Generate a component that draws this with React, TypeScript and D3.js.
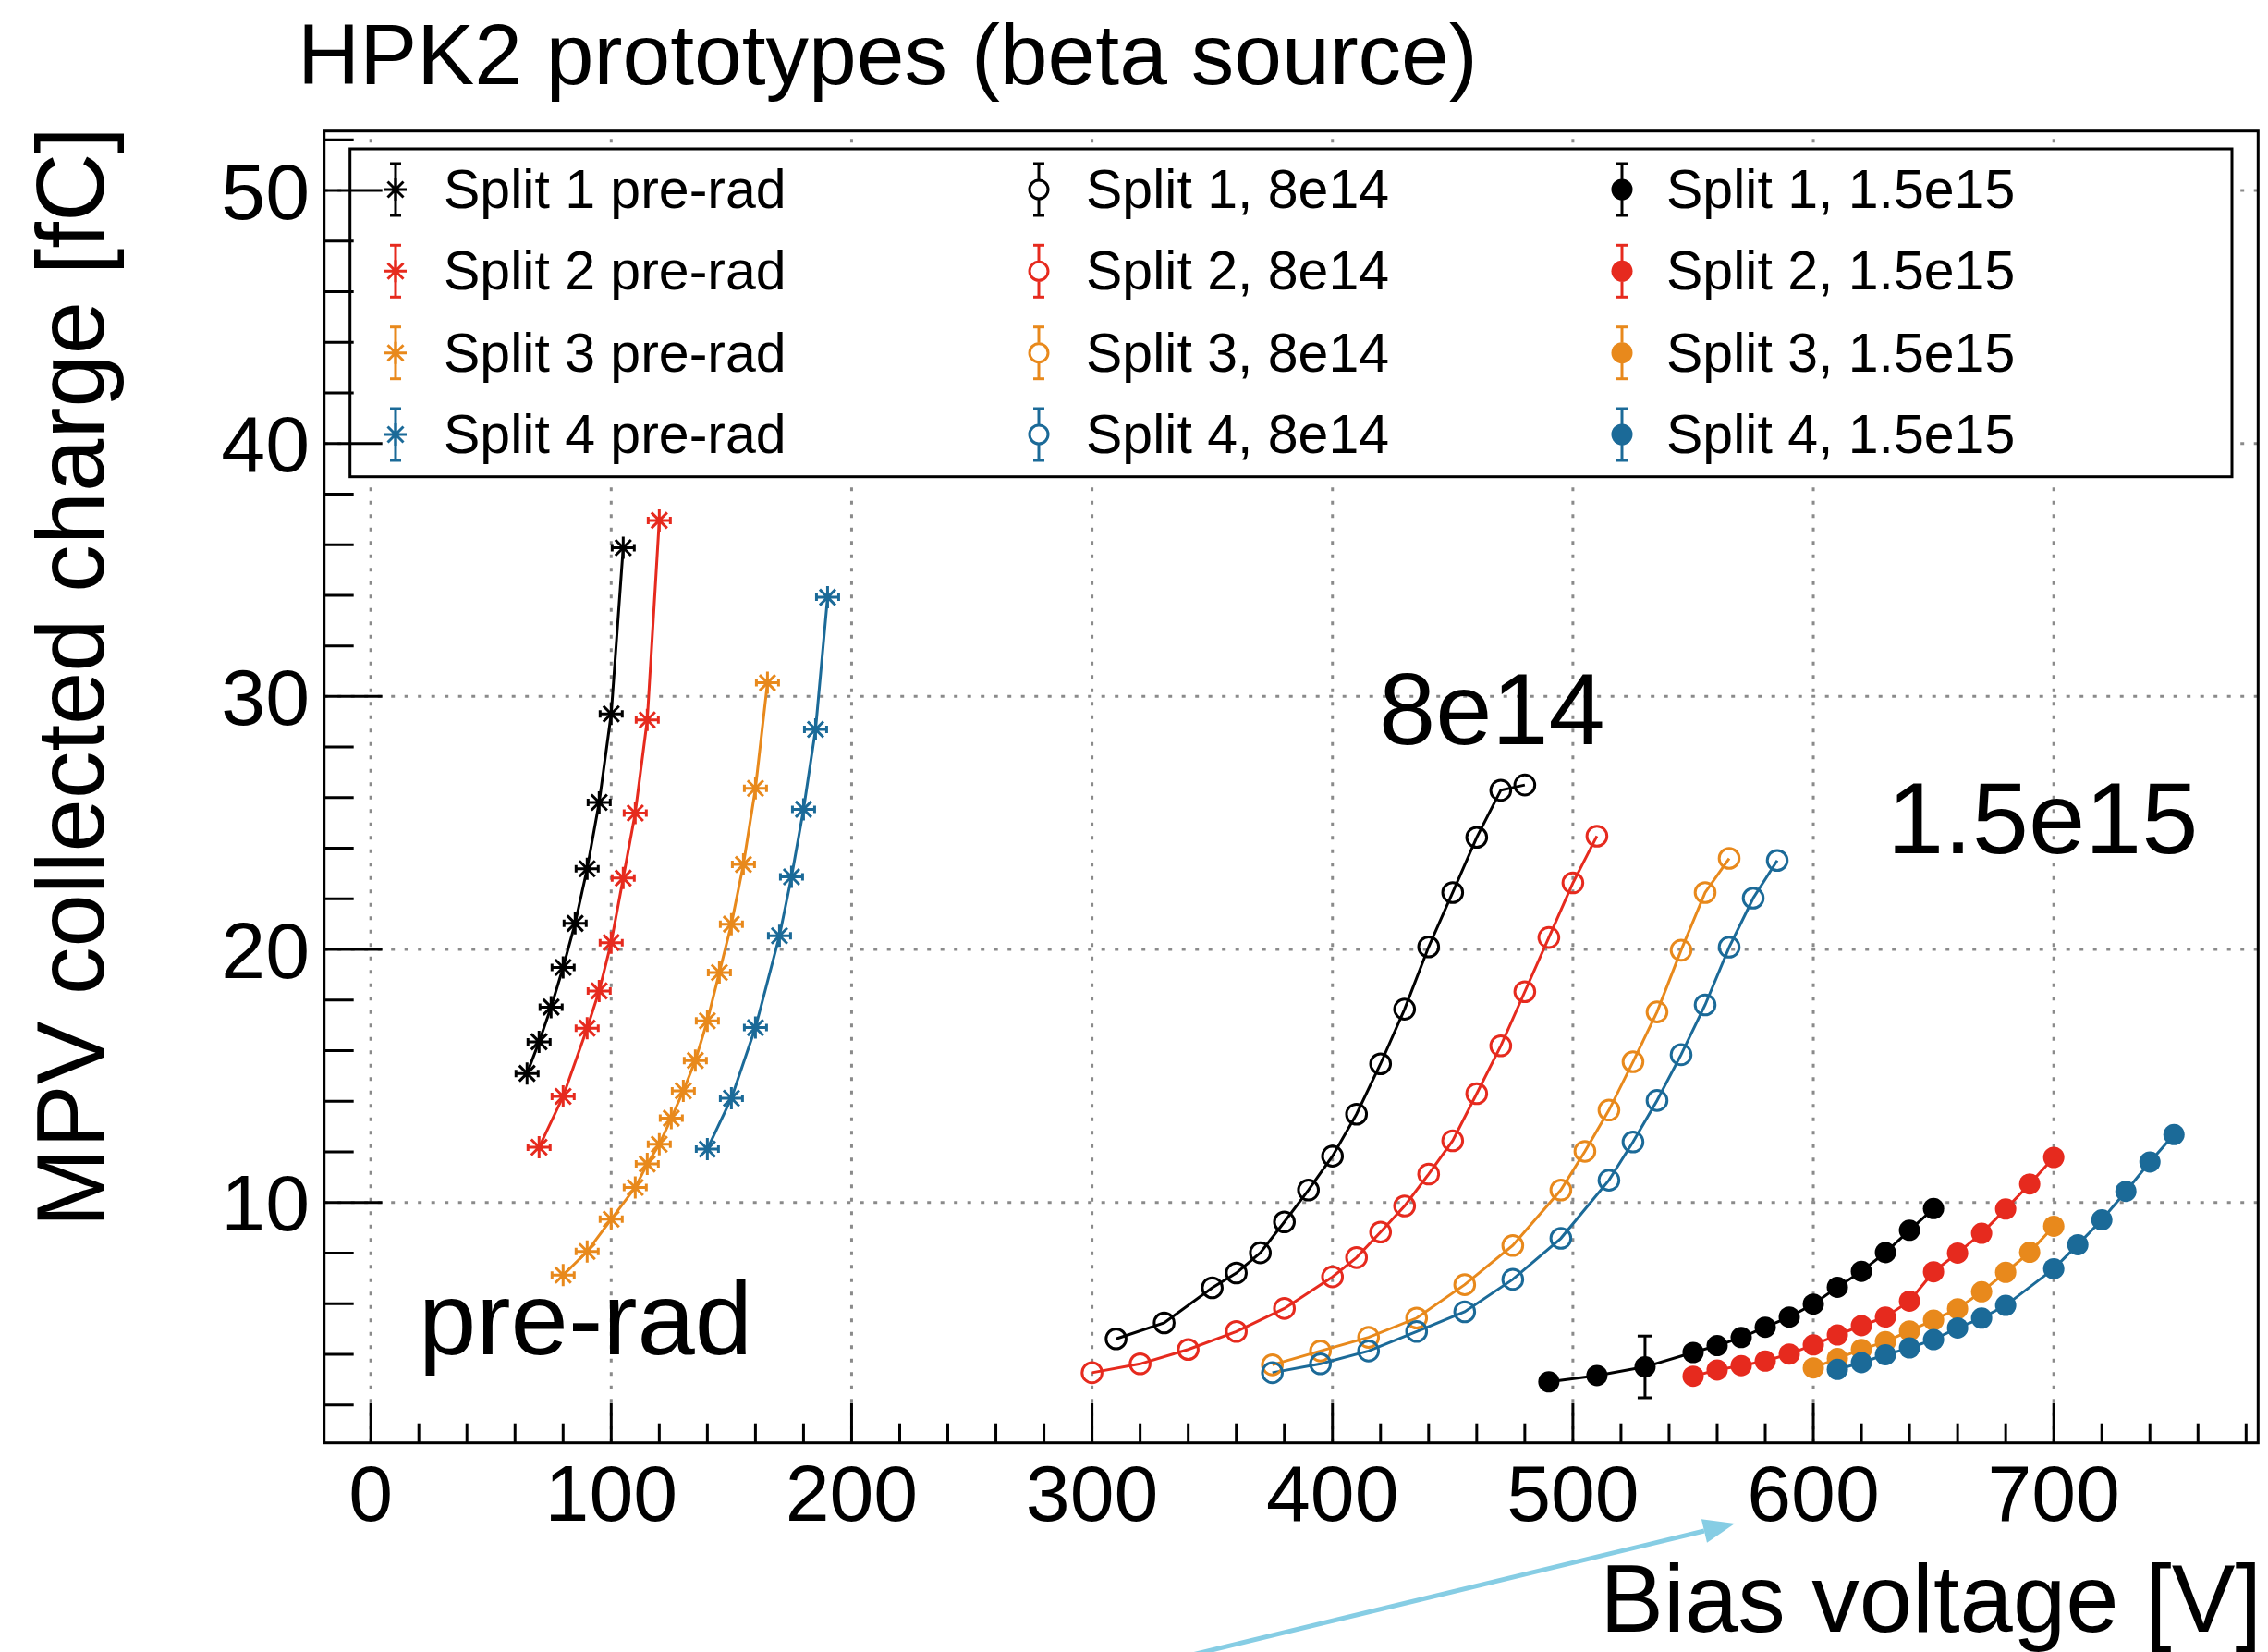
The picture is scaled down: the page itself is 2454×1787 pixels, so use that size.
import React from "react";
import * as d3 from "d3";

// ---------- data ----------
const s1PreV = [65, 70, 75, 80, 85, 90, 95, 100, 105];
const s1PreQ = [15.1, 16.35, 17.72, 19.29, 21.03, 23.19, 25.81, 29.31, 35.88];
const s2PreV = [70, 80, 90, 95, 100, 105, 110, 115, 120];
const s2PreQ = [12.18, 14.19, 16.89, 18.36, 20.27, 22.82, 25.39, 29.07, 36.96];
const s3PreV = [80, 90, 100, 110, 115, 120, 125, 130, 135, 140, 145, 150, 155, 160, 165];
const s3PreQ = [7.13, 8.06, 9.34, 10.59, 11.52, 12.3, 13.33, 14.41, 15.61, 17.18, 19.09, 21.0, 23.36, 26.37, 30.54];
const s4PreV = [140, 150, 160, 170, 175, 180, 185, 190];
const s4PreQ = [12.11, 14.12, 16.91, 20.54, 22.87, 25.54, 28.7, 33.92];

const s1F8V = [310, 330, 350, 360, 370, 380, 390, 400, 410, 420, 430, 440, 450, 460, 470, 480];
const s1F8Q = [4.61, 5.24, 6.63, 7.21, 8.01, 9.23, 10.49, 11.83, 13.49, 15.48, 17.64, 20.1, 22.25, 24.43, 26.29, 26.5];
const s2F8V = [300, 320, 340, 360, 380, 400, 410, 420, 430, 440, 450, 460, 470, 480, 490, 500, 510];
const s2F8Q = [3.27, 3.62, 4.19, 4.9, 5.81, 7.06, 7.82, 8.83, 9.86, 11.12, 12.44, 14.3, 16.19, 18.33, 20.47, 22.63, 24.48];
const s3F8V = [375, 395, 415, 435, 455, 475, 495, 505, 515, 525, 535, 545, 555, 565];
const s3F8Q = [3.58, 4.13, 4.67, 5.43, 6.75, 8.3, 10.49, 12.02, 13.65, 15.56, 17.53, 19.97, 22.25, 23.6];
const s4F8V = [375, 395, 415, 435, 455, 475, 495, 515, 525, 535, 545, 555, 565, 575, 585];
const s4F8Q = [3.27, 3.62, 4.13, 4.9, 5.68, 6.96, 8.58, 10.88, 12.39, 14.03, 15.84, 17.81, 20.09, 22.03, 23.52];

const s1F15V = [490, 510, 530, 550, 560, 570, 580, 590, 600, 610, 620, 630, 640, 650];
const s1F15Q = [2.91, 3.16, 3.5, 4.07, 4.34, 4.66, 5.07, 5.47, 5.98, 6.65, 7.28, 8.02, 8.9, 9.76];
const s1F15E = [0, 0, 1.22, 0, 0, 0, 0, 0, 0, 0, 0, 0, 0, 0];
const s2F15V = [550, 560, 570, 580, 590, 600, 610, 620, 630, 640, 650, 660, 670, 680, 690, 700];
const s2F15Q = [3.13, 3.38, 3.55, 3.73, 4.01, 4.37, 4.76, 5.13, 5.47, 6.1, 7.26, 8.0, 8.78, 9.74, 10.73, 11.78];
const s3F15V = [600, 610, 620, 630, 640, 650, 660, 670, 680, 690, 700];
const s3F15Q = [3.46, 3.83, 4.19, 4.5, 4.92, 5.35, 5.8, 6.47, 7.24, 8.03, 9.06];
const s4F15V = [610, 620, 630, 640, 650, 660, 670, 680, 700, 710, 720, 730, 740, 750];
const s4F15Q = [3.4, 3.67, 3.98, 4.25, 4.58, 5.04, 5.43, 5.93, 7.38, 8.33, 9.31, 10.44, 11.6, 12.68];

const xTickLabels = [0, 100, 200, 300, 400, 500, 600, 700];
const yTickLabels = [10, 20, 30, 40, 50];
const legendPre = ["Split 1 pre-rad", "Split 2 pre-rad", "Split 3 pre-rad", "Split 4 pre-rad"];
const legend8 = ["Split 1, 8e14", "Split 2, 8e14", "Split 3, 8e14", "Split 4, 8e14"];
const legend15 = ["Split 1, 1.5e15", "Split 2, 1.5e15", "Split 3, 1.5e15", "Split 4, 1.5e15"];

// ---------- styling ----------
const COLORS = ["#000000", "#E62A1E", "#E8891C", "#1B6A98"];
const FONT = "'Liberation Sans', Arial, Helvetica, sans-serif";
const W = 2454;
const H = 1787;

type Marker = "star" | "open" | "filled";
interface Series { v: number[]; q: number[]; e?: number[]; color: string; marker: Marker }

const series: Series[] = [
  { v: s1PreV, q: s1PreQ, color: COLORS[0], marker: "star" },
  { v: s2PreV, q: s2PreQ, color: COLORS[1], marker: "star" },
  { v: s3PreV, q: s3PreQ, color: COLORS[2], marker: "star" },
  { v: s4PreV, q: s4PreQ, color: COLORS[3], marker: "star" },
  { v: s1F8V, q: s1F8Q, color: COLORS[0], marker: "open" },
  { v: s2F8V, q: s2F8Q, color: COLORS[1], marker: "open" },
  { v: s3F8V, q: s3F8Q, color: COLORS[2], marker: "open" },
  { v: s4F8V, q: s4F8Q, color: COLORS[3], marker: "open" },
  { v: s1F15V, q: s1F15Q, e: s1F15E, color: COLORS[0], marker: "filled" },
  { v: s2F15V, q: s2F15Q, color: COLORS[1], marker: "filled" },
  { v: s3F15V, q: s3F15Q, color: COLORS[2], marker: "filled" },
  { v: s4F15V, q: s4F15Q, color: COLORS[3], marker: "filled" },
];

const X0 = 350.7, X1 = 2443.3, Y0 = 1560.7, Y1 = 141.7;
const x = d3.scaleLinear().domain([-19.4, 785]).range([X0, X1]);
const y = d3.scaleLinear().domain([0.5, 52.35]).range([Y0, Y1]);

const STAR = "M-12,0H12M-12,-4V4M12,-4V4M0,-12V12M-8.5,-8.5L8.5,8.5M-8.5,8.5L8.5,-8.5";

function MarkerShape({ m, color, cx, cy }: { m: Marker; color: string; cx: number; cy: number }) {
  if (m === "star")
    return <path d={STAR} transform={`translate(${cx},${cy})`} stroke={color} strokeWidth={3} fill="none" />;
  if (m === "open")
    return <circle cx={cx} cy={cy} r={10.8} fill="none" stroke={color} strokeWidth={3} />;
  return <circle cx={cx} cy={cy} r={11.5} fill={color} />;
}

export default function App() {
  const line = d3
    .line<[number, number]>()
    .x((d) => x(d[0]))
    .y((d) => y(d[1]));

  const xMinor = d3.range(0, 781, 20).filter((v) => v % 100 !== 0);
  const yMinor = d3.range(2, 53, 2).filter((v) => v % 10 !== 0);

  const legendCols = [
    { labels: legendPre, m: "star" as Marker, mx: 428, tx: 480 },
    { labels: legend8, m: "open" as Marker, mx: 1124, tx: 1175 },
    { labels: legend15, m: "filled" as Marker, mx: 1755, tx: 1803 },
  ];
  const rowY = [205, 293.3, 381.7, 470];

  // arrow annotation geometry
  const aStart: [number, number] = [1290, 1790];
  const aTip: [number, number] = [1877, 1648];
  const dx = aTip[0] - aStart[0], dy = aTip[1] - aStart[1];
  const len = Math.hypot(dx, dy);
  const ux = dx / len, uy = dy / len;
  const bx = aTip[0] - 34 * ux, by = aTip[1] - 34 * uy;
  const nx = -uy, ny = ux;

  return (
    <div style={{ position: "absolute", left: 0, top: 0 }}>
      <svg width={W} height={H} viewBox={`0 0 ${W} ${H}`} style={{ display: "block", background: "#fff" }}>
        <rect x={0} y={0} width={W} height={H} fill="#fff" />
        {/* grid */}
        <g stroke="#8a8a8a" strokeWidth={3} strokeDasharray="4,10.5">
          {xTickLabels.map((v) => (
            <line key={"gx" + v} x1={x(v)} x2={x(v)} y1={Y0} y2={Y1} />
          ))}
          {yTickLabels.map((v) => (
            <line key={"gy" + v} x1={X0} x2={X1} y1={y(v)} y2={y(v)} />
          ))}
        </g>

        {/* series lines */}
        {series.map((s, i) => (
          <path
            key={"l" + i}
            d={line(s.v.map((v, j) => [v, s.q[j]] as [number, number])) || ""}
            fill="none"
            stroke={s.color}
            strokeWidth={3}
          />
        ))}
        {/* error bars */}
        {series.map((s, i) =>
          s.e
            ? s.e.map((e, j) =>
                e > 0 ? (
                  <g key={`e${i}-${j}`} stroke={s.color} strokeWidth={3}>
                    <line x1={x(s.v[j])} x2={x(s.v[j])} y1={y(s.q[j] - e)} y2={y(s.q[j] + e)} />
                    <line x1={x(s.v[j]) - 8} x2={x(s.v[j]) + 8} y1={y(s.q[j] - e)} y2={y(s.q[j] - e)} />
                    <line x1={x(s.v[j]) - 8} x2={x(s.v[j]) + 8} y1={y(s.q[j] + e)} y2={y(s.q[j] + e)} />
                  </g>
                ) : null
              )
            : null
        )}
        {/* markers */}
        {series.map((s, i) =>
          s.v.map((v, j) => (
            <MarkerShape key={`m${i}-${j}`} m={s.marker} color={s.color} cx={x(v)} cy={y(s.q[j])} />
          ))
        )}

        {/* legend */}
        <rect x={378.7} y={161} width={2415 - 378.7} height={515.7 - 161} fill="#fff" stroke="#000" strokeWidth={3} />
        {legendCols.map((col, ci) =>
          col.labels.map((lab, ri) => {
            const cy = rowY[ri];
            const c = COLORS[ri];
            const gap = col.m === "star" ? 0 : 11;
            return (
              <g key={`lg${ci}-${ri}`}>
                <g stroke={c} strokeWidth={3}>
                  {col.m === "star" ? (
                    <line x1={col.mx} x2={col.mx} y1={cy - 28} y2={cy + 28} />
                  ) : (
                    <>
                      <line x1={col.mx} x2={col.mx} y1={cy - 28} y2={cy - gap} />
                      <line x1={col.mx} x2={col.mx} y1={cy + gap} y2={cy + 28} />
                    </>
                  )}
                  <line x1={col.mx - 6} x2={col.mx + 6} y1={cy - 28} y2={cy - 28} />
                  <line x1={col.mx - 6} x2={col.mx + 6} y1={cy + 28} y2={cy + 28} />
                </g>
                {col.m === "star" ? (
                  <path d="M-12,0H12M0,-12V12M-8.5,-8.5L8.5,8.5M-8.5,8.5L8.5,-8.5" transform={`translate(${col.mx},${cy})`} stroke={c} strokeWidth={3} fill="none" />
                ) : col.m === "open" ? (
                  <circle cx={col.mx} cy={cy} r={10} fill="none" stroke={c} strokeWidth={3} />
                ) : (
                  <circle cx={col.mx} cy={cy} r={11.5} fill={c} />
                )}
                <text x={col.tx} y={cy + 20} fontFamily={FONT} fontSize={59} fill="#000">
                  {lab}
                </text>
              </g>
            );
          })
        )}

        {/* frame */}
        <rect x={X0} y={Y1} width={X1 - X0} height={Y0 - Y1} fill="none" stroke="#000" strokeWidth={3} />
        {/* ticks */}
        <g stroke="#000" strokeWidth={3}>
          {xTickLabels.map((v) => (
            <line key={"xt" + v} x1={x(v)} x2={x(v)} y1={Y0} y2={Y0 - 43} />
          ))}
          {xMinor.map((v) => (
            <line key={"xm" + v} x1={x(v)} x2={x(v)} y1={Y0} y2={Y0 - 21} />
          ))}
          {yTickLabels.map((v) => (
            <line key={"yt" + v} x1={X0} x2={X0 + 63} y1={y(v)} y2={y(v)} />
          ))}
          {yMinor.map((v) => (
            <line key={"ym" + v} x1={X0} x2={X0 + 32} y1={y(v)} y2={y(v)} />
          ))}
        </g>
        {/* tick labels */}
        <g fontFamily={FONT} fontSize={86} fill="#000">
          {xTickLabels.map((v) => (
            <text key={"xl" + v} x={x(v)} y={1645} textAnchor="middle">
              {v}
            </text>
          ))}
          {yTickLabels.map((v) => (
            <text key={"yl" + v} x={335} y={y(v)} dy="0.355em" textAnchor="end">
              {v}
            </text>
          ))}
        </g>

        {/* axis titles */}
        <text x={2447} y={1765} textAnchor="end" fontFamily={FONT} fontSize={103} fill="#000">
          Bias voltage [V]
        </text>
        <text
          transform="translate(112,137) rotate(-90)"
          textAnchor="end"
          fontFamily={FONT}
          fontSize={103}
          fill="#000"
        >
          MPV collected charge [fC]
        </text>
        <text x={322} y={91} fontFamily={FONT} fontSize={93} fill="#000">
          HPK2 prototypes (beta source)
        </text>

        {/* annotations */}
        <g fontFamily={FONT} fontSize={110} fill="#000">
          <text x={1492} y={805}>8e14</text>
          <text x={2042} y={923}>1.5e15</text>
          <text x={453} y={1465} fontSize={112}>pre-rad</text>
        </g>

        {/* arrow */}
        <g>
          <line x1={aStart[0]} y1={aStart[1]} x2={bx} y2={by} stroke="#86CDE4" strokeWidth={5} />
          <polygon
            points={`${aTip[0]},${aTip[1]} ${bx + 13 * nx},${by + 13 * ny} ${bx - 13 * nx},${by - 13 * ny}`}
            fill="#86CDE4"
          />
        </g>
      </svg>
    </div>
  );
}
